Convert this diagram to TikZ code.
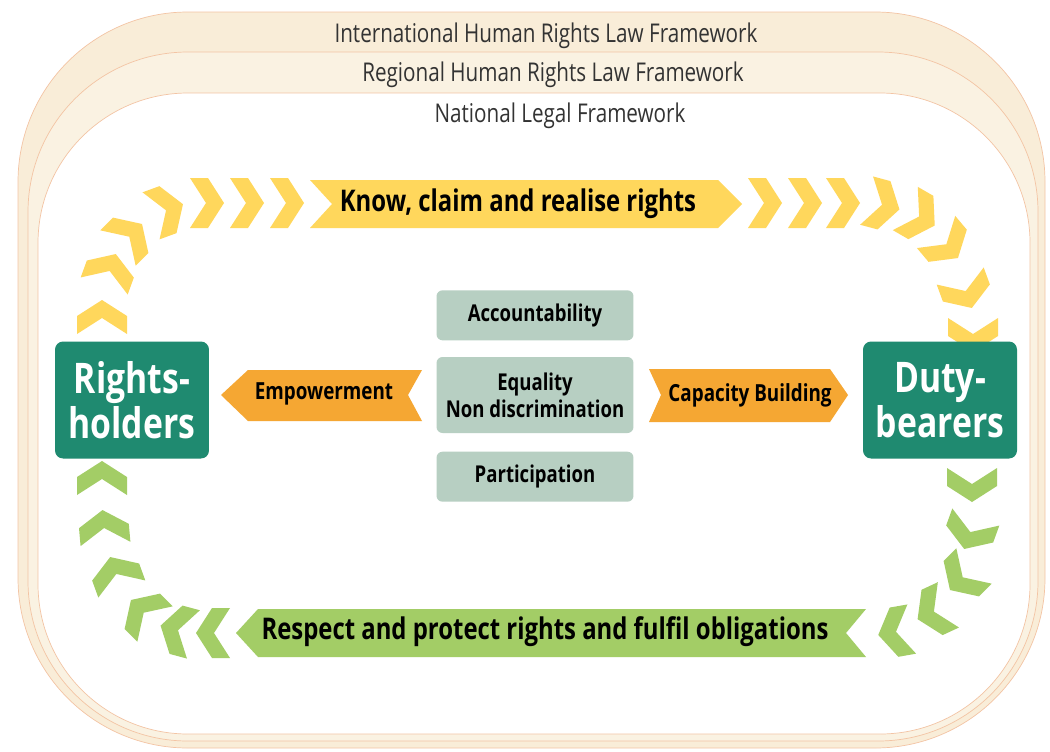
\documentclass[tikz,border=0pt]{standalone}
\usepackage{fontspec}
\setmainfont{Open Sans}
\newfontfamily\framefont[FakeStretch=0.8]{Open Sans}
\newfontfamily\condfont[FakeStretch=0.8]{Open Sans}
\usetikzlibrary{positioning}
\definecolor{frameedge}{RGB}{243,196,164}
\definecolor{framefill}{RGB}{249,237,216}
\definecolor{rbteal}{RGB}{31,138,112}
\definecolor{valgreen}{RGB}{183,207,194}
\definecolor{arroworange}{RGB}{245,167,51}
\definecolor{knowyellow}{RGB}{255,215,92}
\definecolor{respectgreen}{RGB}{163,205,102}
\tikzset{
  framelabel/.style={text=black!80, font=\framefont\fontsize{14.7}{16}\selectfont},
  holder/.style={fill=rbteal, text=white, rounded corners=0.16cm, align=center,
    minimum width=3.08cm, minimum height=2.34cm, inner sep=0pt,
    font=\condfont\bfseries\fontsize{24}{25.5}\selectfont},
  valbox/.style={fill=valgreen, rounded corners=0.12cm, align=center,
    minimum width=3.94cm, minimum height=1cm, inner sep=0pt,
    font=\condfont\bfseries\fontsize{13.2}{15.3}\selectfont},
  arrowtext/.style={font=\condfont\bfseries\fontsize{13.4}{15}\selectfont},
  bannertext/.style={font=\condfont\bfseries\fontsize{17}{18}\selectfont},
  chev/.pic={\fill (-17,-25) -- (1,-25) -- (17,0) -- (1,25) -- (-17,25) -- (-1,0) -- cycle;}
}
\begin{document}
\begin{tikzpicture}[x=0.02cm,y=-0.02cm]
\useasboundingbox (0,0) rectangle (1050,751);

% the three legal frameworks
\draw[frameedge, fill=framefill, rounded corners=3.4cm] (18,12) rectangle (1045,748);
\draw[frameedge, fill=framefill!75, rounded corners=3.2cm] (28,52) rectangle (1038,741);
\draw[frameedge, fill=white, rounded corners=3cm] (38,93) rectangle (1030,734);
\node[framelabel] (intl) at (546,36) {International Human Rights Law Framework};
\node[framelabel] (regional) at (553,75) {Regional Human Rights Law Framework};
\node[framelabel] (national) at (560,116) {National Legal Framework};

% chevrons round the cycle
\foreach \x/\y/\a in {102/317/90, 110/270/70, 130/236/45, 167/210/20, 207/203/0, 247/203/0, 287/203/0,
  765/203/0, 805/203/0, 843/203/0, 883/205/-15, 920/217/-30, 947/245/-50, 966/292/-70, 973/335/-90}
  \pic[fill=knowyellow, rotate=\a] at (\x,\y) {chev};
\foreach \x/\y/\a in {972/485/-90, 970/533/-110, 962/578/-135, 933/612/-155, 895/632/-170,
  213/633/180, 177/630/165, 143/612/135, 116/573/110, 104/527/95, 102/478/90}
  \pic[fill=respectgreen, rotate=\a] at (\x,\y) {chev};

% banners
\fill[knowyellow] (310,180) -- (718,180) -- (742,204) -- (718,228) -- (310,228) -- (332,204) -- cycle;
\node[bannertext] (know) at (518,204) {Know, claim and realise rights};
\fill[respectgreen] (258,609) -- (866,609) -- (846,633) -- (866,657) -- (258,657) -- (236,633) -- cycle;
\node[bannertext] (respect) at (545,632) {Respect and protect rights and fulfil obligations};

% actors
\node[holder] (rh) at (132,400) {Rights-\\holders};
\node[holder] (db) at (940,400) {Duty-\\bearers};

% principles
\node[valbox, minimum height=1.52cm] (eq) at (535,395) {Equality\\Non discrimination};
\node[valbox, above=0.32cm of eq] (acc) {Accountability};
\node[valbox, below=0.36cm of eq] (part) {Participation};

% strategies
\fill[arroworange] (422,370) -- (408,395) -- (422,421) -- (248,421) -- (221,395) -- (248,370) -- cycle;
\node[arrowtext] (emp) at (324,394) {Empowerment};
\fill[arroworange] (649,369) -- (830,369) -- (848,395) -- (830,422) -- (649,422) -- (661,395) -- cycle;
\node[arrowtext] (cap) at (750,395) {Capacity Building};
\end{tikzpicture}
\end{document}
